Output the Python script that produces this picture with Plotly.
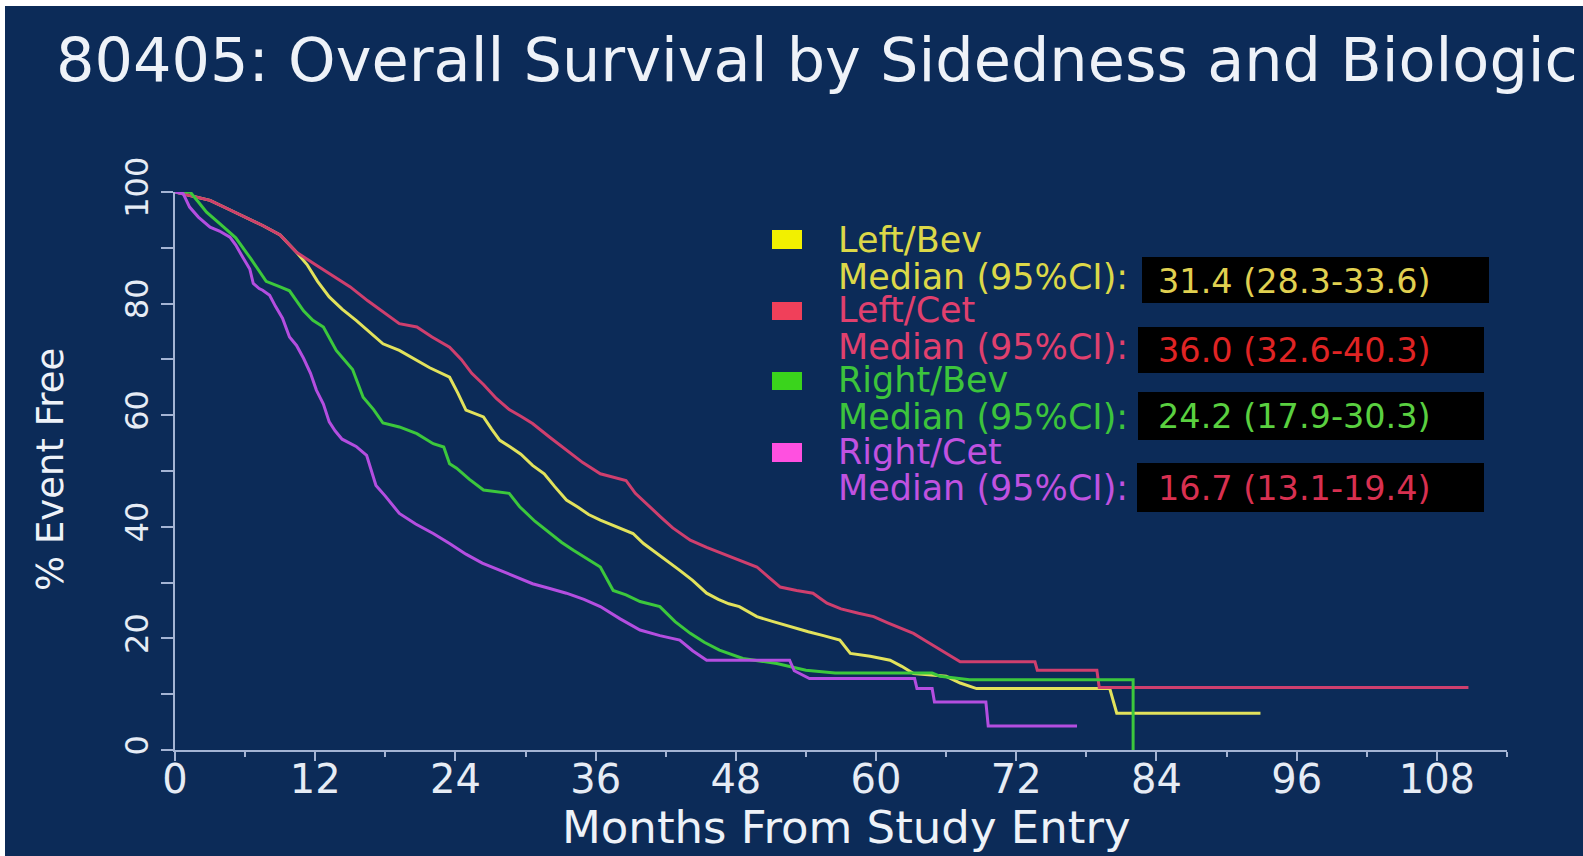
import plotly.graph_objects as go

# ---------------- data (months, % event free) ----------------
left_bev_t = [0, 1.5, 3, 4.5, 6, 7.5, 9, 10.4, 11.3, 12.2, 13.2, 14.3, 15.5, 16.6, 17.8, 19.2, 20.5, 21.8,
              23.5, 24.2, 24.9, 25.6, 26.4, 27.1, 27.8, 28.7, 29.6, 30.6, 31.6, 32.5, 33.5, 34.5, 35.4, 36.4,
              37.8, 39.2, 40.1, 41.1, 42.1, 43.2, 44.3, 45.5, 46.5, 47.4, 48.3, 49.8, 51.2, 52.6, 54.2, 55.5,
              56.9, 57.8, 59.5, 61.2, 62.2, 63.2, 64.6, 66, 67.2, 68.6, 80.0, 80.6, 92.9]
left_bev_s = [100, 99.3, 98.5, 97, 95.5, 94, 92.3, 89.2, 87, 84, 81.2, 79, 77, 75, 72.8, 71.6, 70, 68.5,
              66.8, 64, 60.9, 60.3, 59.7, 57.5, 55.5, 54.3, 53, 51, 49.5, 47.2, 44.8, 43.5, 42.2, 41.2,
              40, 38.8, 37, 35.5, 34, 32.2, 30.4, 28.1, 27, 26.2, 25.7, 23.9, 23, 22.1, 21.2, 20.5,
              19.7, 17.3, 16.8, 16.1, 15, 13.7, 13.5, 13.2, 12, 11.0, 11.0, 6.6, 6.6]

left_cet_t = [0, 1.5, 3, 4.5, 6, 7.5, 9, 10.4, 12, 13.5, 15, 16.5, 17.8, 19.2, 20.7, 22, 23.5, 24.5, 25.4,
              26.4, 27.5, 28.6, 29.6, 30.6, 32.1, 33.5, 34.9, 36.4, 38.6, 39.4, 40.6, 41.6, 42.6, 44.1,
              45.5, 46.9, 48.3, 49.8, 50.8, 51.8, 53.2, 54.6, 55.8, 57, 58.5, 59.8, 61, 62.1, 63.2, 64.3,
              65.5, 66.6, 67.2, 73.6, 73.8, 78.9, 79.1, 110.7]
left_cet_s = [100, 99.3, 98.5, 97, 95.5, 94, 92.3, 89.2, 87, 85, 83, 80.5, 78.5, 76.4, 75.8, 74, 72.2, 70,
              67.5, 65.5, 63, 61, 59.8, 58.5, 56, 53.7, 51.5, 49.5, 48.3, 46, 43.6, 41.7, 39.8, 37.6,
              36.3, 35.2, 34, 32.8, 31, 29.2, 28.6, 28.1, 26.3, 25.3, 24.5, 23.9, 22.8, 21.8, 20.9, 19.5,
              18, 16.7, 15.8, 15.8, 14.3, 14.3, 11.2, 11.2]

right_bev_t = [0, 1.3, 2, 2.7, 4, 5.2, 6.5, 7.8, 9, 9.8, 11, 11.8, 12.7, 13.8, 15.2, 16.1, 17, 17.8, 19.2,
               20.7, 22.1, 23, 23.5, 24.1, 25.2, 26.4, 28.6, 29.5, 30.8, 32.1, 33.1, 34.1, 35.2, 36.4,
               37.5, 38.6, 39.8, 41.5, 42.8, 44.1, 45.3, 46.6, 48.6, 51.5, 54, 56.5, 64.8, 65.5, 68, 82, 82]
right_bev_s = [100, 100, 98.2, 96.4, 94, 91.8, 88, 84, 83, 82.3, 78.7, 77, 75.8, 71.6, 68.2, 63.2, 61,
               58.6, 57.9, 56.7, 54.9, 54.3, 51.3, 50.5, 48.5, 46.6, 46, 43.6, 41, 38.8, 37.2, 35.8,
               34.3, 32.8, 28.6, 27.8, 26.6, 25.7, 23, 20.9, 19.3, 17.9, 16.4, 15.5, 14.3, 13.8, 13.8,
               13.2, 12.6, 12.6, 0]

right_cet_t = [0, 0.7, 1.25, 2, 3, 3.8, 4.7, 5.2, 5.8, 6.4, 6.7, 7.2, 7.5, 8.1, 8.6, 9.2, 9.8, 10.4, 11,
               11.6, 12.1, 12.7, 13.2, 13.7, 14.3, 15.5, 16.4, 16.8, 17.2, 18, 19.2, 20.6, 22.1, 23.5,
               24.9, 26.3, 27.8, 29.2, 30.6, 32, 33.5, 35, 36.4, 38.1, 39.8, 41.5, 43.2, 44.3, 45.5,
               52.6, 53, 54.3, 63.3, 63.5, 64.8, 65, 69.4, 69.6, 77.2]
right_cet_s = [100, 99.7, 97.3, 95.5, 93.7, 93, 91.9, 90.5, 88.3, 86.2, 83.6, 82.7, 82.4, 81.5, 79.5,
               77.4, 74, 72.5, 70.2, 67.5, 64.5, 62, 58.8, 57.2, 55.7, 54.4, 52.8, 50, 47.4, 45.5, 42.4,
               40.5, 38.8, 37, 35.1, 33.5, 32.2, 31, 29.8, 29, 28.1, 27, 25.7, 23.5, 21.5, 20.5, 19.7,
               17.8, 16.1, 16.1, 14.2, 12.8, 12.8, 11.0, 11.0, 8.6, 8.6, 4.3, 4.3]

group_names = ["Left/Bev", "Left/Cet", "Right/Bev", "Right/Cet"]
median_texts = ["31.4 (28.3-33.6)", "36.0 (32.6-40.3)", "24.2 (17.9-30.3)", "16.7 (13.1-19.4)"]
x_tickvals = list(range(0, 109, 12))
y_tickvals = list(range(0, 101, 10))
y_ticktext = ["0", "", "20", "", "40", "", "60", "", "80", "", "100"]

# ---------------- styling ----------------
W, H = 1583, 856
PL, PR, PT, PB = 175, 1507, 192, 750
BG = "#0c2b58"
FONT = "DejaVu Sans"
line_colors = ["#e2e25c", "#cf3f6e", "#3cc83c", "#b44ee0"]
square_colors = ["#f2f000", "#f0405a", "#3ad41c", "#ff50e0"]
label_colors = ["#dcd848", "#e0406e", "#3cc43c", "#c052e0"]
value_colors = ["#e0d050", "#e02424", "#5ad040", "#d83050"]


def px2x(px):
    return (px - PL) / (PR - PL)


def py2y(py):
    return (PB - py) / (PB - PT)


series = [(left_bev_t, left_bev_s), (left_cet_t, left_cet_s),
          (right_bev_t, right_bev_s), (right_cet_t, right_cet_s)]

fig = go.Figure()
for (t, s), name, col in zip(series, group_names, line_colors):
    assert len(t) == len(s)
    fig.add_trace(go.Scatter(x=t, y=s, mode="lines", name=name, line=dict(color=col, width=3),
                             showlegend=False, hoverinfo="skip"))

shapes = []
# white border strips (top / left)
shapes.append(dict(type="rect", xref="paper", yref="paper", x0=px2x(-5), x1=px2x(W + 5), y0=py2y(6), y1=py2y(-5),
                   fillcolor="white", line=dict(width=0), layer="above"))
shapes.append(dict(type="rect", xref="paper", yref="paper", x0=px2x(-5), x1=px2x(5), y0=py2y(H + 5), y1=py2y(-5),
                   fillcolor="white", line=dict(width=0), layer="above"))

annotations = []
annotations.append(dict(text="80405: Overall Survival by Sidedness and Biologic", xref="paper", yref="paper",
                        x=px2x(54), y=py2y(60), xanchor="left", yanchor="middle", showarrow=False,
                        font=dict(family=FONT, size=60.5, color="#eef2f8")))
annotations.append(dict(text="% Event Free", xref="paper", yref="paper", x=px2x(50), y=py2y(470),
                        xanchor="center", yanchor="middle", textangle=-90, showarrow=False,
                        font=dict(family=FONT, size=37, color="#eef2f8")))
annotations.append(dict(text="Months From Study Entry", xref="paper", yref="paper", x=px2x(846), y=py2y(828),
                        xanchor="center", yanchor="middle", showarrow=False,
                        font=dict(family=FONT, size=45, color="#eef2f8")))

name_rows = [240, 310, 380, 452]
median_rows = [277, 347, 417, 488]
square_rows = [(230, 249), (302, 320), (372, 390), (443, 462)]
boxes = [(1142, 257, 1489, 303), (1138, 327, 1484, 373), (1138, 392, 1484, 440), (1137, 463, 1484, 512)]
value_rows = [281, 350, 416, 488]

for i in range(4):
    y0, y1 = square_rows[i]
    shapes.append(dict(type="rect", xref="paper", yref="paper", x0=px2x(772), x1=px2x(802),
                       y0=py2y(y1), y1=py2y(y0), fillcolor=square_colors[i], line=dict(width=0)))
    bx0, by0, bx1, by1 = boxes[i]
    shapes.append(dict(type="rect", xref="paper", yref="paper", x0=px2x(bx0), x1=px2x(bx1),
                       y0=py2y(by1), y1=py2y(by0), fillcolor="#000000", line=dict(width=0)))
    annotations.append(dict(text=group_names[i], xref="paper", yref="paper", x=px2x(836), y=py2y(name_rows[i]),
                            xanchor="left", yanchor="middle", showarrow=False,
                            font=dict(family=FONT, size=35, color=label_colors[i])))
    annotations.append(dict(text="Median (95%CI):", xref="paper", yref="paper", x=px2x(836),
                            y=py2y(median_rows[i]), xanchor="left", yanchor="middle", showarrow=False,
                            font=dict(family=FONT, size=35, color=label_colors[i])))
    annotations.append(dict(text=median_texts[i], xref="paper", yref="paper", x=px2x(1156),
                            y=py2y(value_rows[i]), xanchor="left", yanchor="middle", showarrow=False,
                            font=dict(family=FONT, size=33.5, color=value_colors[i])))

axis_col = "#a4b4d4"
fig.update_layout(
    width=W, height=H,
    margin=dict(l=PL, r=W - PR, t=PT, b=H - PB, pad=0),
    paper_bgcolor=BG, plot_bgcolor=BG,
    shapes=shapes, annotations=annotations,
    xaxis=dict(range=[0, 114], tickvals=x_tickvals, ticks="outside", ticklen=9, tickwidth=2,
               tickcolor=axis_col, showline=True, linecolor=axis_col, linewidth=2, showgrid=False,
               zeroline=False, ticklabelstandoff=-16,
               tickfont=dict(family=FONT, size=40, color="#e6ecf5"),
               minor=dict(dtick=6, tick0=0, ticks="outside", ticklen=5, tickcolor=axis_col, tickwidth=2,
                          showgrid=False)),
    yaxis=dict(range=[0, 100], tickvals=y_tickvals, ticktext=y_ticktext, ticks="outside", ticklen=12,
               tickwidth=2, tickcolor=axis_col, showline=True, linecolor=axis_col, linewidth=2,
               showgrid=False, zeroline=False, tickangle=-90,
               tickfont=dict(family=FONT, size=32, color="#e6ecf5")),
)

fig.write_html("out.html")
